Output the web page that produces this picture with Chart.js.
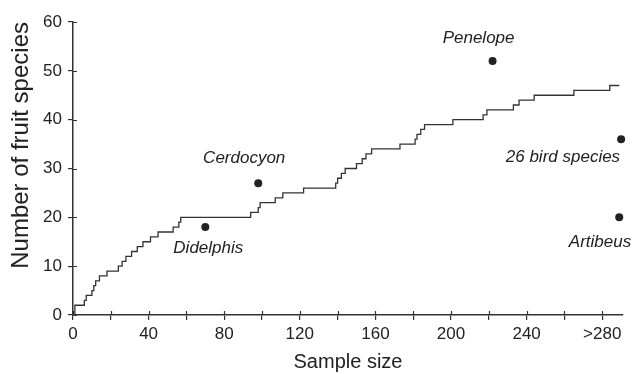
<!DOCTYPE html>
<html>
<head>
<meta charset="utf-8">
<script src="https://cdn.jsdelivr.net/npm/chart.js@4/dist/chart.umd.min.js"></script>
<style>
  html, body { margin: 0; padding: 0; background: #fff; }
  #wrap { width: 638px; height: 374px; }
</style>
</head>
<body>
<div id="wrap"><canvas id="c" width="638" height="374"></canvas></div>
<script>
// accumulation curve: sample size where the count steps up, and the new count
const curveX = [0, 1, 6, 7, 10, 11, 12, 14, 18, 24, 26, 28, 31, 34, 37, 41, 45, 53, 56, 57,
  94, 98, 99, 107, 111, 122, 139, 140, 142, 144, 150, 153, 155, 158, 173, 181, 182, 184, 186, 201,
  217, 219, 233, 236, 244, 265, 284, 289];
const curveY = [0, 2, 3, 4, 5, 6, 7, 8, 9, 10, 11, 12, 13, 14, 15, 16, 17, 18, 19, 20,
  21, 22, 23, 24, 25, 26, 27, 28, 29, 30, 31, 32, 33, 34, 35, 36, 37, 38, 39, 40,
  41, 42, 43, 44, 45, 46, 47, 47];

// single frugivores
const pointNames = ['Didelphis', 'Cerdocyon', 'Penelope', '26 bird species', 'Artibeus'];
const pointX = [70, 98, 222, 290, 289];
const pointY = [18, 27, 52, 36, 20];

// axis ticks
const xLabelTicks = [0, 40, 80, 120, 160, 200, 240, 280];
const xLabelText = ['0', '40', '80', '120', '160', '200', '240', '>280'];

const FONT = '"Liberation Sans", Arial, Helvetica, sans-serif';
const INK = '#222';

// label placement next to each dot (pixels), and text alignment
const labelOffset = [[3, 21, 'center'], [-14, -25, 'center'], [-14, -23, 'center'], [-1, 18, 'right'], [12, 25, 'right']];

const crossTicks = {
  id: 'crossTicks',
  afterDraw(chart) {
    const ctx = chart.ctx;
    const xs = chart.scales.x, ys = chart.scales.y;
    ctx.save();
    ctx.strokeStyle = '#333';
    ctx.lineWidth = 1.2;
    ctx.beginPath();
    xs.ticks.forEach(t => {
      const px = Math.round(xs.getPixelForValue(t.value)) + 0.5;
      ctx.moveTo(px, ys.bottom);
      ctx.lineTo(px, ys.bottom - 4);
    });
    ys.ticks.forEach(t => {
      const py = Math.round(ys.getPixelForValue(t.value)) + 0.5;
      ctx.moveTo(xs.left, py);
      ctx.lineTo(xs.left + 4, py);
    });
    ctx.stroke();

    // names beside the dots
    ctx.fillStyle = INK;
    ctx.font = 'italic 17px ' + FONT;
    ctx.textBaseline = 'middle';
    pointNames.forEach((name, i) => {
      const [dx, dy, align] = labelOffset[i];
      ctx.textAlign = align;
      ctx.fillText(name, xs.getPixelForValue(pointX[i]) + dx, ys.getPixelForValue(pointY[i]) + dy);
    });
    ctx.restore();
  }
};

new Chart(document.getElementById('c'), {
  type: 'scatter',
  data: {
    datasets: [
      {
        type: 'line',
        data: curveX.map((x, i) => ({ x, y: curveY[i] })),
        stepped: 'before',
        borderColor: '#333',
        borderWidth: 1.3,
        pointRadius: 0,
        fill: false
      },
      {
        data: pointX.map((x, i) => ({ x, y: pointY[i] })),
        backgroundColor: INK,
        borderColor: INK,
        pointRadius: 4,
        borderWidth: 0,
        clip: false
      }
    ]
  },
  options: {
    responsive: false,
    animation: false,
    events: [],
    layout: { padding: { top: 22, right: 15, bottom: 0, left: 0 } },
    plugins: { legend: { display: false }, tooltip: { enabled: false } },
    scales: {
      x: {
        type: 'linear',
        min: 0,
        max: 291,
        afterFit: s => { s.height = 59; },
        border: { display: true, color: '#333', width: 1.5 },
        grid: { drawOnChartArea: false, drawTicks: true, tickLength: 5, color: '#333', lineWidth: 1.2 },
        ticks: {
          stepSize: 20,
          includeBounds: false,
          autoSkip: false,
          maxRotation: 0,
          padding: 4,
          color: INK,
          font: { family: FONT, size: 17 },
          callback: v => {
            const i = xLabelTicks.indexOf(v);
            return i < 0 ? '' : xLabelText[i];
          }
        },
        title: { display: true, text: 'Sample size', color: INK, font: { family: FONT, size: 20 }, padding: { top: 0, bottom: 0 } }
      },
      y: {
        min: 0,
        max: 60,
        afterFit: s => { s.width = 73; },
        border: { display: true, color: '#333', width: 1.5 },
        grid: { drawOnChartArea: false, drawTicks: true, tickLength: 5, color: '#333', lineWidth: 1.2 },
        ticks: { stepSize: 10, padding: 6, color: INK, font: { family: FONT, size: 17 } },
        title: { display: true, text: 'Number of fruit species', align: 'end', color: INK, font: { family: FONT, size: 24 }, padding: { top: 7, bottom: 0 } }
      }
    }
  },
  plugins: [crossTicks]
});
</script>
</body>
</html>
